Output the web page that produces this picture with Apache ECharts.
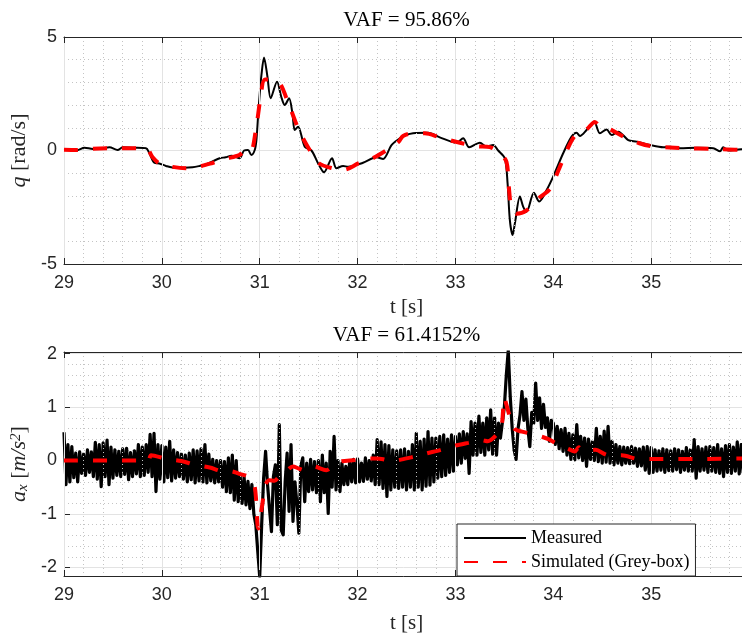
<!DOCTYPE html>
<html><head><meta charset="utf-8">
<script src="https://cdn.jsdelivr.net/npm/echarts@6/dist/echarts.min.js"></script>
<style>html,body{margin:0;padding:0;background:#fff}#c{width:742px;height:635px}</style>
</head><body><div id="c"></div>
<script>
// ---------- data ----------
const titles = ['VAF = 95.86%', 'VAF = 61.4152%'];
const legendNames = ['Measured', 'Simulated (Grey-box)'];
const xLabel = 't [s]';

// top plot: pitch rate q [rad/s]
const topMeasT = [29.0,29.125,29.21,29.295,29.38,29.464,29.548,29.6,29.7,29.838,29.872,29.923,29.974,30.042,30.144,30.314,30.387,30.448,30.591,30.652,30.711,30.795,30.84,30.88,30.915,30.949,30.966,30.983,31.0,31.017,31.044,31.079,31.112,31.177,31.22,31.256,31.3,31.334,31.358,31.392,31.46,31.529,31.596,31.657,31.739,31.784,31.852,31.903,32.056,32.193,32.261,32.347,32.432,32.465,32.567,32.721,32.84,33.011,33.079,33.14,33.25,33.318,33.385,33.437,33.505,33.533,33.556,33.584,33.608,33.659,33.692,33.727,33.802,33.856,33.932,33.999,34.101,34.187,34.238,34.272,34.34,34.418,34.476,34.545,34.596,34.664,34.766,34.852,34.988,35.124,35.192,35.294,35.465,35.635,35.704,35.737,35.788,35.92,36.0];
const topMeasQ = [0.05,0.0,0.12,0.07,0.08,0.14,0.02,0.14,0.12,0.1,-0.12,-0.54,-0.57,-0.68,-0.77,-0.74,-0.68,-0.61,-0.34,-0.3,-0.23,-0.34,0.0,0.02,-0.2,0.02,0.45,1.5,2.5,3.3,4.1,3.25,2.3,3.03,2.37,2.0,2.3,1.64,0.9,1.05,0.17,0.0,-0.56,-0.96,-0.34,-0.78,-0.68,-0.72,-0.54,-0.3,-0.37,0.24,0.54,0.64,0.76,0.78,0.58,0.34,0.54,0.14,0.34,0.17,0.24,0.0,-0.35,-1.45,-3.06,-3.72,-3.2,-2.03,-2.47,-2.7,-1.86,-2.25,-1.74,-1.15,-0.12,0.61,0.78,0.64,0.9,1.27,0.76,0.93,0.68,0.83,0.46,0.39,0.24,0.14,0.17,0.1,0.12,0.1,-0.03,0.14,0.0,0.05,0.05];
const topSimT = [29.0,29.125,29.29,29.46,29.75,29.845,29.906,29.974,30.11,30.245,30.38,30.517,30.652,30.79,30.857,30.908,30.96,31.01,31.054,31.18,31.3,31.4,31.52,31.604,31.74,31.86,32.012,32.15,32.3,32.42,32.465,32.567,32.687,32.84,33.045,33.216,33.352,33.454,33.522,33.549,33.574,33.625,33.727,33.863,33.965,34.05,34.136,34.22,34.34,34.425,34.476,34.58,34.73,34.88,35.005,35.19,35.33,35.635,35.92,36.0];
const topSimQ = [0.03,0.02,0.08,0.1,0.1,0.08,-0.3,-0.57,-0.72,-0.78,-0.71,-0.55,-0.37,-0.2,-0.02,-0.05,0.9,2.37,3.13,3.07,2.0,0.9,-0.05,-0.56,-0.78,-0.85,-0.56,-0.35,0.02,0.39,0.64,0.76,0.76,0.58,0.34,0.19,0.15,-0.12,-0.51,-1.76,-2.57,-2.79,-2.64,-2.06,-1.7,-0.9,-0.02,0.64,0.93,1.26,1.07,0.93,0.58,0.32,0.19,0.13,0.1,0.07,0.03,0.03];

// bottom plot: longitudinal acceleration a_x [m/s^2]
const botMeasStart = 29.0, botMeasStep = 0.02;   // sample grid of the measured trace
const botMeasA = [
 0.53,-0.45,0.30,-0.40,0.26,-0.32,0.14,-0.40,0.16,-0.24,
 0.12,-0.28,0.20,-0.22,0.16,-0.30,0.34,-0.35,0.30,-0.49,
 0.33,-0.30,0.38,-0.45,0.25,-0.33,0.20,-0.28,0.17,-0.30,
 0.22,-0.26,0.23,-0.36,0.15,-0.30,0.18,-0.25,0.30,-0.30,
 0.25,-0.28,0.30,-0.22,0.49,-0.30,0.51,-0.58,0.30,-0.35,
 0.28,-0.40,0.25,-0.32,0.36,-0.38,0.20,-0.33,0.15,-0.30,
 0.12,-0.35,0.10,-0.40,0.14,-0.36,0.20,-0.42,0.18,-0.38,
 0.22,-0.40,0.30,-0.42,0.12,-0.38,0.02,-0.42,0.00,-0.40,
 0.00,-0.50,-0.02,-0.58,0.05,-0.60,0.10,-0.74,0.00,-0.77,
 -0.28,-0.80,-0.30,-0.83,-0.39,-0.90,-0.45,-1.00,-1.20,-1.70,
 -2.17,-1.20,-0.33,0.17,-0.45,-0.90,-1.33,-0.30,-0.08,-1.20,
 0.67,-1.30,-1.39,-0.40,0.14,-0.95,0.30,-1.14,-0.40,-0.80,
 -1.36,-0.10,0.05,-0.77,-0.05,-0.58,0.02,-0.55,-0.02,-0.60,
 0.00,-0.77,0.10,-0.60,-0.05,-0.99,0.17,-0.50,0.45,-0.55,
 0.00,-0.58,-0.05,-0.45,-0.11,-0.45,0.00,-0.40,0.02,-0.42,
 0.03,-0.40,-0.05,-0.39,0.05,-0.35,0.00,-0.38,0.10,-0.45,
 0.39,-0.45,0.35,-0.52,0.30,-0.67,0.28,-0.55,0.20,-0.50,
 0.18,-0.52,0.20,-0.50,0.22,-0.55,0.17,-0.50,0.30,-0.55,
 0.51,-0.50,0.36,-0.55,0.40,-0.48,0.54,-0.46,0.42,-0.40,
 0.42,-0.33,0.45,-0.30,0.48,-0.28,0.40,-0.22,0.48,-0.20,
 0.45,-0.08,0.50,-0.05,0.54,0.04,0.50,-0.24,0.73,0.10,
 0.70,0.10,0.83,0.15,0.70,0.10,0.80,0.20,0.95,0.12,
 0.80,0.10,0.70,0.42,0.72,1.00,1.60,2.06,1.20,0.60,
 0.20,0.02,0.60,0.85,1.29,0.75,1.15,0.60,0.26,0.90,
 0.70,1.45,0.75,1.17,0.60,1.05,0.62,0.80,0.36,0.75,
 0.70,0.30,0.64,0.22,0.58,0.17,0.60,0.10,0.51,0.02,
 0.48,0.01,0.67,0.05,0.45,0.00,0.42,-0.11,0.40,0.02,
 0.35,0.00,0.60,-0.02,0.45,-0.05,0.55,-0.03,0.64,-0.05,
 0.36,-0.08,0.30,-0.05,0.26,-0.08,0.25,-0.05,0.24,-0.06,
 0.26,-0.05,0.23,-0.11,0.22,-0.10,0.25,-0.18,0.26,-0.24,
 0.24,-0.22,0.20,-0.20,0.18,-0.18,0.22,-0.22,0.20,-0.19,
 0.18,-0.20,0.22,-0.17,0.20,-0.22,0.17,-0.18,0.24,-0.20,
 0.20,-0.20,0.39,-0.33,0.26,-0.20,0.22,-0.18,0.25,-0.22,
 0.26,-0.20,0.24,-0.22,0.30,-0.24,0.22,-0.30,0.28,-0.22,
 0.30,-0.24,0.25,-0.20,0.35,-0.25,0.30,-0.22,0.28,-0.20,
 0.25];
const botSimT = [29.0,29.5,29.86,29.89,30.04,30.2,30.336,30.489,30.625,30.7,30.778,30.898,30.95,30.985,31.02,31.06,31.1,31.15,31.2,31.26,31.34,31.4,31.45,31.55,31.68,31.75,31.82,31.97,32.1,32.2,32.27,32.33,32.4,32.5,32.6,32.7,32.85,33.0,33.13,33.27,33.33,33.42,33.47,33.5,33.52,33.556,33.6,33.68,33.8,33.95,34.05,34.15,34.22,34.26,34.3,34.43,34.56,34.7,34.87,35.0,35.5,36.0];
const botSimA = [0.0,0.0,0.0,0.1,0.03,-0.01,-0.08,-0.13,-0.2,-0.2,-0.24,-0.32,-0.5,-1.27,-0.9,-0.45,-0.37,-0.38,-0.3,-0.22,-0.11,-0.15,-0.18,-0.11,-0.18,-0.1,-0.02,0.01,0.04,0.04,0.02,-0.01,0.0,0.04,0.08,0.13,0.2,0.28,0.33,0.38,0.36,0.48,0.62,1.18,1.05,0.82,0.6,0.54,0.49,0.4,0.3,0.22,0.17,0.25,0.18,0.2,0.1,0.1,0.03,0.03,0.03,0.04];

// ---------- build ----------
const zip = (t, v) => t.map((x, i) => [x, v[i]]);
const botMeas = botMeasA.map((v, i) => [+(botMeasStart + i * botMeasStep).toFixed(2), v]);

const AX = '#262626';
const sans = 'Liberation Sans', serif = 'Liberation Serif';
const gridLine = { show: true, lineStyle: { color: '#e3e3e3', width: 1 } };
const minorLine = { show: true, lineStyle: { color: '#c4c4c4', width: 1, type: [1, 3] } };
const intLabel = v => (Math.abs(v - Math.round(v)) < 1e-6 ? String(Math.round(v)) : '');

function xBottom(gi, gap) {
  return {
    type: 'value', gridIndex: gi, position: 'bottom', min: 29, max: 36, interval: 1, z: 3,
    name: xLabel, nameLocation: 'middle', nameGap: gap,
    nameTextStyle: { fontFamily: serif, fontSize: 21, color: AX },
    axisLine: { show: true, onZero: false, lineStyle: { color: AX, width: 1 } },
    axisTick: { show: true, inside: true, length: 6, lineStyle: { color: AX } },
    axisLabel: { margin: 10, fontFamily: sans, fontSize: 18, color: AX,
      formatter: v => (v <= 35.5 ? intLabel(v) : '') },
    splitLine: gridLine,
    minorTick: { show: false, splitNumber: 5 },
    minorSplitLine: minorLine
  };
}
function xTop(gi, title) {
  return {
    type: 'value', gridIndex: gi, position: 'top', min: 29, max: 36, interval: 1, z: 3,
    name: title, nameLocation: 'middle', nameGap: 6,
    nameTextStyle: { fontFamily: serif, fontSize: 21, color: '#000' },
    axisLine: { show: true, onZero: false, lineStyle: { color: AX, width: 1 } },
    axisTick: { show: true, inside: true, length: 6, lineStyle: { color: AX } },
    axisLabel: { show: false }, splitLine: { show: false }
  };
}
const yCommon = {
  type: 'value', position: 'left', nameLocation: 'middle', nameRotate: 90,
  axisLine: { show: true, onZero: false, lineStyle: { color: AX, width: 1 } },
  axisTick: { show: true, inside: true, length: 6, lineStyle: { color: AX } },
  splitLine: gridLine,
  minorTick: { show: false, splitNumber: 5 },
  minorSplitLine: minorLine
};
const nameRich = {
  i: { fontFamily: serif, fontStyle: 'italic', fontSize: 22, color: AX },
  sub: { fontFamily: serif, fontStyle: 'italic', fontSize: 15, color: AX, verticalAlign: 'bottom' },
  sup: { fontFamily: serif, fontStyle: 'italic', fontSize: 15, color: AX, verticalAlign: 'top' },
  n: { fontFamily: serif, fontSize: 22, color: AX }
};

const chart = echarts.init(document.getElementById('c'), null, { renderer: 'canvas' });
chart.setOption({
  animation: false,
  backgroundColor: '#fff',
  grid: [
    { left: 64, top: 37, width: 685, height: 227, containLabel: false, outerBoundsMode: 'none' },
    { left: 64, top: 352, width: 685, height: 224, containLabel: false, outerBoundsMode: 'none' }
  ],
  xAxis: [xBottom(0, 33), xTop(0, titles[0]), xBottom(1, 37), xTop(1, titles[1])],
  yAxis: [
    Object.assign({}, yCommon, { gridIndex: 0, min: -5, max: 5, interval: 5, nameGap: 20,
      name: '{i|q}{n| [rad/s]}', nameTextStyle: { rich: nameRich },
      axisLabel: { margin: 7, fontFamily: sans, fontSize: 18, color: AX } }),
    Object.assign({}, yCommon, { gridIndex: 1, min: -2.16, max: 2.03, splitNumber: 5, nameGap: 23,
      name: '{i|a}{sub|x}{n| [}{i|m/s}{sup|2}{n|]}', nameTextStyle: { rich: nameRich },
      axisLabel: { margin: 7, fontFamily: sans, fontSize: 18, color: AX, formatter: intLabel } })
  ],
  legend: {
    data: legendNames, orient: 'vertical', left: 457, top: 524,
    itemWidth: 62, itemHeight: 14, itemGap: 6, padding: [5, 6, 5, 6],
    borderColor: AX, borderWidth: 1, borderRadius: 0, backgroundColor: '#fff',
    selectedMode: false,
    itemStyle: { opacity: 0 },
    textStyle: { fontFamily: serif, fontSize: 18, color: '#000' }
  },
  series: [
    { name: legendNames[0], type: 'line', xAxisIndex: 0, yAxisIndex: 0, data: zip(topMeasT, topMeasQ),
      symbol: 'none', smooth: 0.3, lineStyle: { color: '#000', width: 2 }, itemStyle: { color: '#000' }, z: 2 },
    { name: legendNames[1], type: 'line', xAxisIndex: 0, yAxisIndex: 0, data: zip(topSimT, topSimQ),
      symbol: 'none', smooth: 0.3, lineStyle: { color: '#ff0000', width: 4, type: [14, 15] }, itemStyle: { color: '#ff0000' }, z: 3 },
    { name: legendNames[0], type: 'line', xAxisIndex: 2, yAxisIndex: 1, data: botMeas,
      symbol: 'none', sampling: null, lineStyle: { color: '#000', width: 3.2, join: 'round' }, itemStyle: { color: '#000' }, z: 2 },
    { name: legendNames[1], type: 'line', xAxisIndex: 2, yAxisIndex: 1, data: zip(botSimT, botSimA),
      symbol: 'none', smooth: 0.3, lineStyle: { color: '#ff0000', width: 4, type: [14, 15] }, itemStyle: { color: '#ff0000' }, z: 3 }
  ]
});
</script></body></html>
